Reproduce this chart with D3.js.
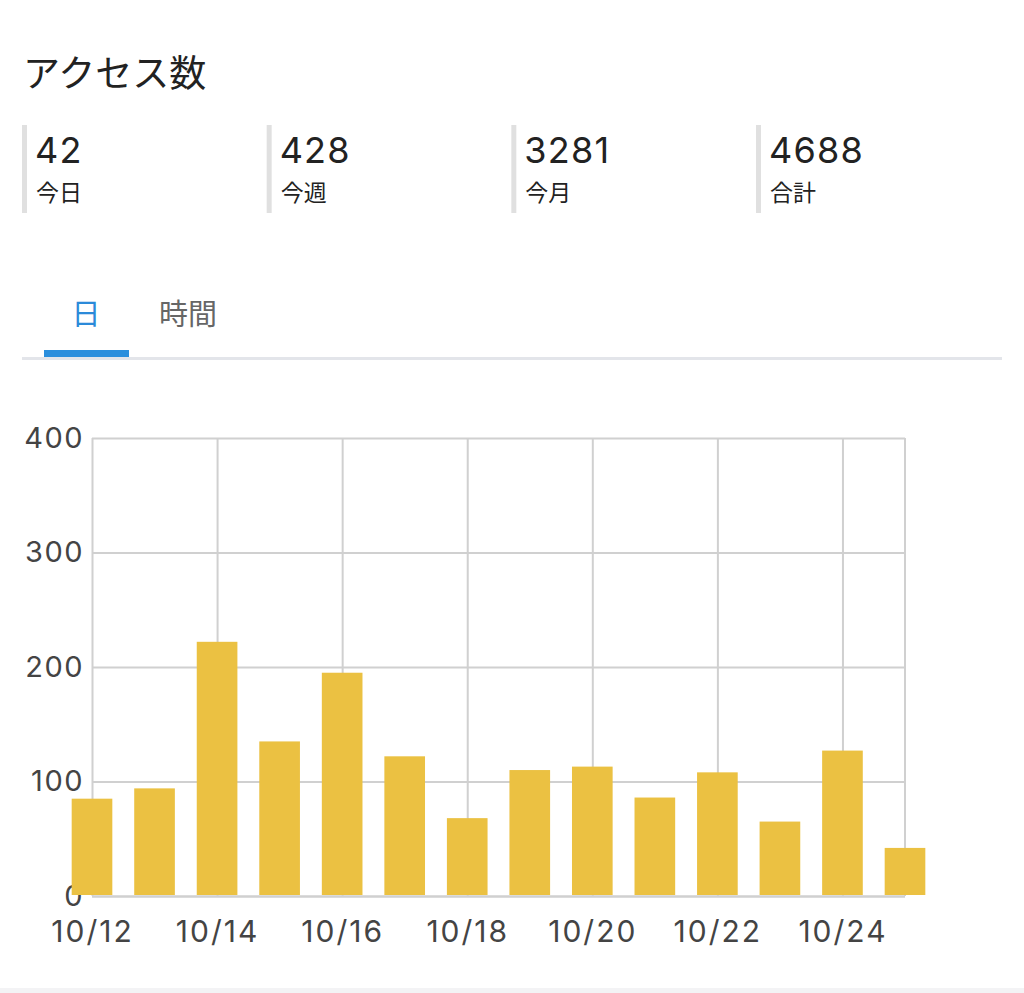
<!DOCTYPE html>
<html>
<head>
<meta charset="utf-8">
<script src="https://cdn.jsdelivr.net/npm/d3@7"></script>
<style>
  html, body { margin: 0; padding: 0; background: #fff; }
  svg { display: block; }
  .num { font-family: "Inter", "Liberation Sans", sans-serif; }
  .jp { font-family: "Noto Sans CJK JP", sans-serif; }
</style>
</head>
<body>
<div id="viz"></div>
<script>
// summary counts
const statValues = ["42", "428", "3281", "4688"];
const statLabels = ["今日", "今週", "今月", "合計"];
const tabLabels = ["日", "時間"];

// daily access counts
const days = ["10/12", "10/13", "10/14", "10/15", "10/16", "10/17", "10/18",
              "10/19", "10/20", "10/21", "10/22", "10/23", "10/24", "10/25"];
const counts = [85, 94, 222, 135, 195, 122, 68, 110, 113, 86, 108, 65, 127, 42];
const yTicks = [0, 100, 200, 300, 400];
const xTickLabels = ["10/12", "10/14", "10/16", "10/18", "10/20", "10/22", "10/24"];

const width = 1024;
const height = 993;

const svg = d3.select("#viz").append("svg")
    .attr("width", width)
    .attr("height", height);

// header
svg.append("text")
    .attr("class", "jp")
    .attr("x", 23)
    .attr("y", 87)
    .style("font-size", "37px")
    .style("fill", "#222")
    .text("アクセス数");

const statX = d3.scalePoint().domain(statLabels).range([22, 756]);

const gStats = svg.selectAll(".stat")
    .data(statLabels)
    .join("g")
        .attr("class", "stat")
        .attr("transform", d => `translate(${statX(d)},0)`);

gStats.append("rect")
    .attr("x", 0)
    .attr("y", 125)
    .attr("width", 5)
    .attr("height", 88)
    .attr("fill", "#e0e0e0");

gStats.append("text")
    .attr("class", "num")
    .attr("x", 13)
    .attr("y", 163)
    .style("font-size", "36px")
    .style("letter-spacing", "1.2px")
    .style("fill", "#222")
    .text((d, i) => statValues[i]);

gStats.append("text")
    .attr("class", "jp")
    .attr("x", 14)
    .attr("y", 201)
    .style("font-size", "23px")
    .style("fill", "#222")
    .text(d => d);

// tabs
const tabX = d3.scalePoint().domain(tabLabels).range([86, 188]);

svg.selectAll(".tab")
    .data(tabLabels)
    .join("text")
        .attr("class", "tab jp")
        .attr("x", d => tabX(d))
        .attr("y", 325)
        .style("text-anchor", "middle")
        .style("font-size", "29px")
        .style("fill", (d, i) => i == 0 ? "#2b8ad9" : "#666")
        .text(d => d);

svg.append("rect")
    .attr("x", 22)
    .attr("y", 357)
    .attr("width", 980)
    .attr("height", 3)
    .attr("fill", "#e3e5ea");

svg.append("rect")
    .attr("x", 44)
    .attr("y", 350)
    .attr("width", 85)
    .attr("height", 7)
    .attr("fill", "#2b8fdd");

// chart
const margin = {left: 92, top: 438};
const plotW = 813;
const plotH = 458;

const g = svg.append("g")
    .attr("transform", `translate(${margin.left},${margin.top})`);

const x = d3.scalePoint()
    .domain(days)
    .range([0, plotW]);

const y = d3.scaleLinear()
    .domain([0, 400])
    .range([plotH, 0]);

const barW = x.step() * 0.65;
const gridColor = "#d0d0d0";

const yAxis = g.append("g")
    .call(d3.axisLeft(y).tickValues(yTicks).tickSize(-plotW).tickPadding(8));

const xAxis = g.append("g")
    .attr("transform", `translate(0,${plotH})`)
    .call(d3.axisBottom(x).tickValues(xTickLabels).tickSize(-plotH).tickPadding(25));

[yAxis, xAxis].forEach(a => {
    a.select(".domain").remove();
    a.selectAll("line")
        .attr("stroke", gridColor)
        .attr("stroke-width", 2);
    a.selectAll("text")
        .attr("class", "num")
        .style("fill", "#444");
});
yAxis.selectAll("text")
    .style("font-size", "29px")
    .style("letter-spacing", "1.5px");
xAxis.selectAll("text")
    .style("font-size", "30px")
    .style("letter-spacing", "2px");

g.append("line")
    .attr("x1", plotW).attr("x2", plotW)
    .attr("y1", 0).attr("y2", plotH)
    .attr("stroke", gridColor)
    .attr("stroke-width", 2);

g.selectAll(".bar")
    .data(counts)
    .join("rect")
        .attr("class", "bar")
        .attr("fill", "#ebc142")
        .attr("x", (d, i) => x(days[i]) - barW / 2)
        .attr("y", d => y(d))
        .attr("width", barW)
        .attr("height", d => y(0) - y(d) - 1);

g.append("line")
    .attr("x1", 0).attr("x2", plotW)
    .attr("y1", plotH + 0.5).attr("y2", plotH + 0.5)
    .attr("stroke", gridColor)
    .attr("stroke-width", 2);

// footer strip
svg.append("rect")
    .attr("x", 0)
    .attr("y", 988)
    .attr("width", width)
    .attr("height", 5)
    .attr("fill", "#f3f3f5");
</script>
</body>
</html>
